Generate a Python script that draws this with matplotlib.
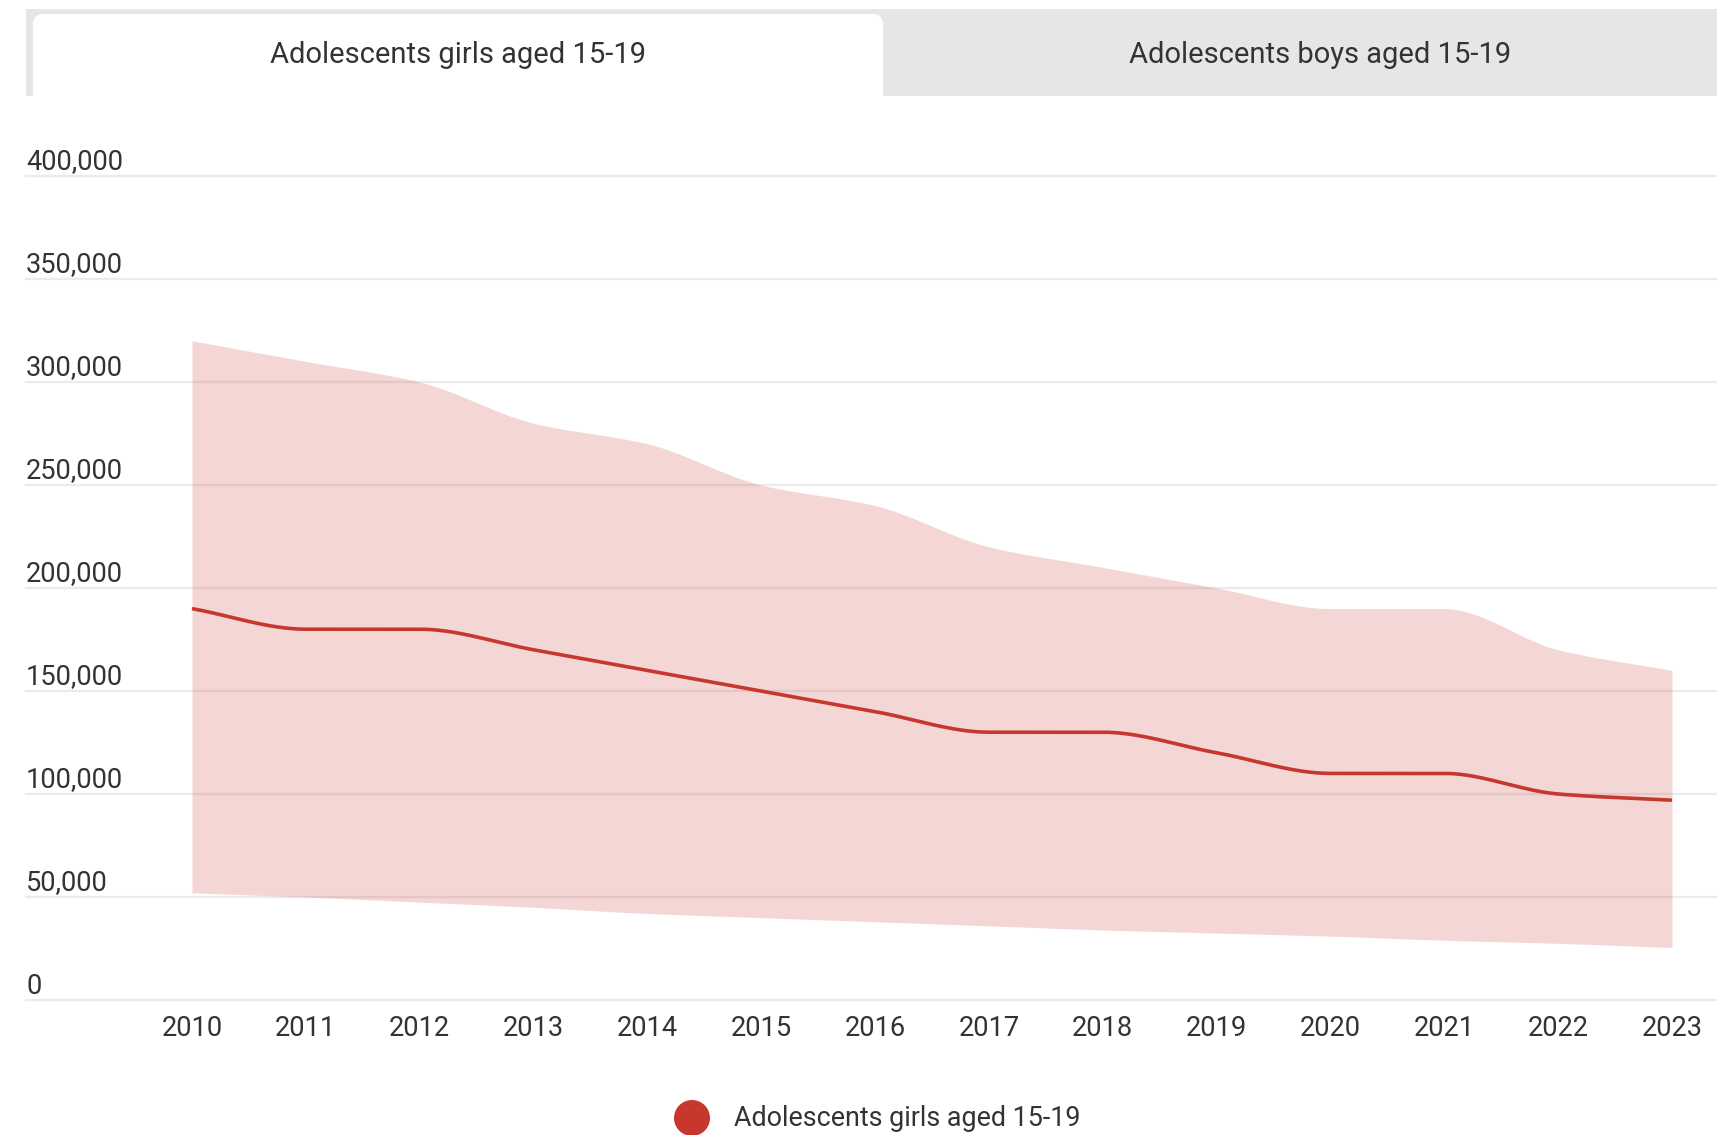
import matplotlib
matplotlib.use("Agg")
import matplotlib.pyplot as plt
import matplotlib.patches as mpatches
import numpy as np

plt.rcParams["font.family"] = ["Roboto", "DejaVu Sans"]

# データ
years = [2010, 2011, 2012, 2013, 2014, 2015, 2016, 2017, 2018, 2019, 2020, 2021, 2022, 2023]
estimate = [190000, 180000, 180000, 170000, 160000, 150000, 140000, 130000,
            130000, 120000, 110000, 110000, 100000, 97000]
upper = [320000, 310000, 300000, 280000, 270000, 250000, 240000, 220000,
         210000, 200000, 190000, 190000, 170000, 160000]
lower = [52000, 50000, 47500, 45000, 42000, 40000, 38000, 36000,
         34000, 32500, 31000, 29000, 27500, 25500]
y_ticks = [0, 50000, 100000, 150000, 200000, 250000, 300000, 350000, 400000]
tab_labels = ["Adolescents girls aged 15-19", "Adolescents boys aged 15-19"]
series_name = "Adolescents girls aged 15-19"

RED = "#C8372D"
GRID = "#EBEBEB"
TEXT = "#333333"

W, H = 1717, 1135


def pchip(x, y, xs):
    # 単調な3次補間（描画用の滑らかな曲線）
    x = np.asarray(x, float)
    y = np.asarray(y, float)
    h = np.diff(x)
    d = np.diff(y) / h
    m = np.zeros_like(y)
    for k in range(1, len(y) - 1):
        if d[k - 1] * d[k] > 0:
            w1 = 2 * h[k] + h[k - 1]
            w2 = h[k] + 2 * h[k - 1]
            m[k] = (w1 + w2) / (w1 / d[k - 1] + w2 / d[k])
    m[0] = d[0]
    m[-1] = d[-1]
    idx = np.clip(np.searchsorted(x, xs) - 1, 0, len(x) - 2)
    t = (xs - x[idx]) / h[idx]
    h00 = 2 * t**3 - 3 * t**2 + 1
    h10 = t**3 - 2 * t**2 + t
    h01 = -2 * t**3 + 3 * t**2
    h11 = t**3 - t**2
    return (h00 * y[idx] + h10 * h[idx] * m[idx]
            + h01 * y[idx + 1] + h11 * h[idx] * m[idx + 1])


fig = plt.figure(figsize=(W / 100, H / 100), dpi=100)
fig.patch.set_facecolor("white")

# タブ
fig.patches.append(mpatches.Rectangle((26 / W, 1 - 96 / H), (W - 26) / W, 87 / H,
                                      transform=fig.transFigure,
                                      facecolor="#E6E6E6", edgecolor="none"))
fig.patches.append(mpatches.FancyBboxPatch((33 / W, 1 - 110 / H), 850 / W, 96 / H,
                                           boxstyle="round,pad=0,rounding_size=0.006",
                                           transform=fig.transFigure,
                                           facecolor="white", edgecolor="none",
                                           mutation_aspect=W / H))
fig.patches.append(mpatches.Rectangle((26 / W, 1 - 115 / H), (W - 26) / W, 19 / H,
                                      transform=fig.transFigure,
                                      facecolor="white", edgecolor="none"))
fig.text(458 / W, 1 - 55 / H, tab_labels[0], ha="center", va="center",
         fontsize=21, color=TEXT)
fig.text(1320 / W, 1 - 55 / H, tab_labels[1], ha="center", va="center",
         fontsize=21, color=TEXT)

# メインの軸
left_px, right_px = 26, W
bottom_px, top_px = 1000, 176
ax = fig.add_axes([left_px / W, 1 - bottom_px / H,
                   (right_px - left_px) / W, (bottom_px - top_px) / H])
ax.set_facecolor("none")
px_per_year = (1672 - 192) / 13
ax.set_xlim(2010 - (192 - left_px) / px_per_year, 2023 + (right_px - 1672) / px_per_year)
ax.set_ylim(0, 400000)
ax.axis("off")

px_val = 400000 / (bottom_px - top_px)
for v in y_ticks:
    ax.axhline(v, color=GRID, linewidth=1.6, zorder=0, clip_on=False)
    ax.text(ax.get_xlim()[0], v + 14 * px_val, f"{v:,}", ha="left", va="center",
            fontsize=19.6, color=TEXT)

for yr in years:
    ax.text(yr, -29 * px_val, str(yr), ha="center", va="center",
            fontsize=19.6, color=TEXT, clip_on=False)

xs = np.linspace(years[0], years[-1], 600)
ax.fill_between(xs, pchip(years, lower, xs), pchip(years, upper, xs),
                color=RED, alpha=0.2, linewidth=0, zorder=1)
ax.plot(xs, pchip(years, estimate, xs), color=RED, linewidth=2.6, zorder=2,
        solid_capstyle="butt")

# 凡例
fig.patches.append(mpatches.Ellipse((692 / W, 1 - 1118 / H), 36 / W, 36 / H,
                                    transform=fig.transFigure,
                                    facecolor=RED, edgecolor="none"))
fig.text(734 / W, 1 - 1119 / H, series_name, ha="left", va="center",
         fontsize=19.4, color=TEXT)

plt.savefig("out.png", dpi=100)
print("Done")
